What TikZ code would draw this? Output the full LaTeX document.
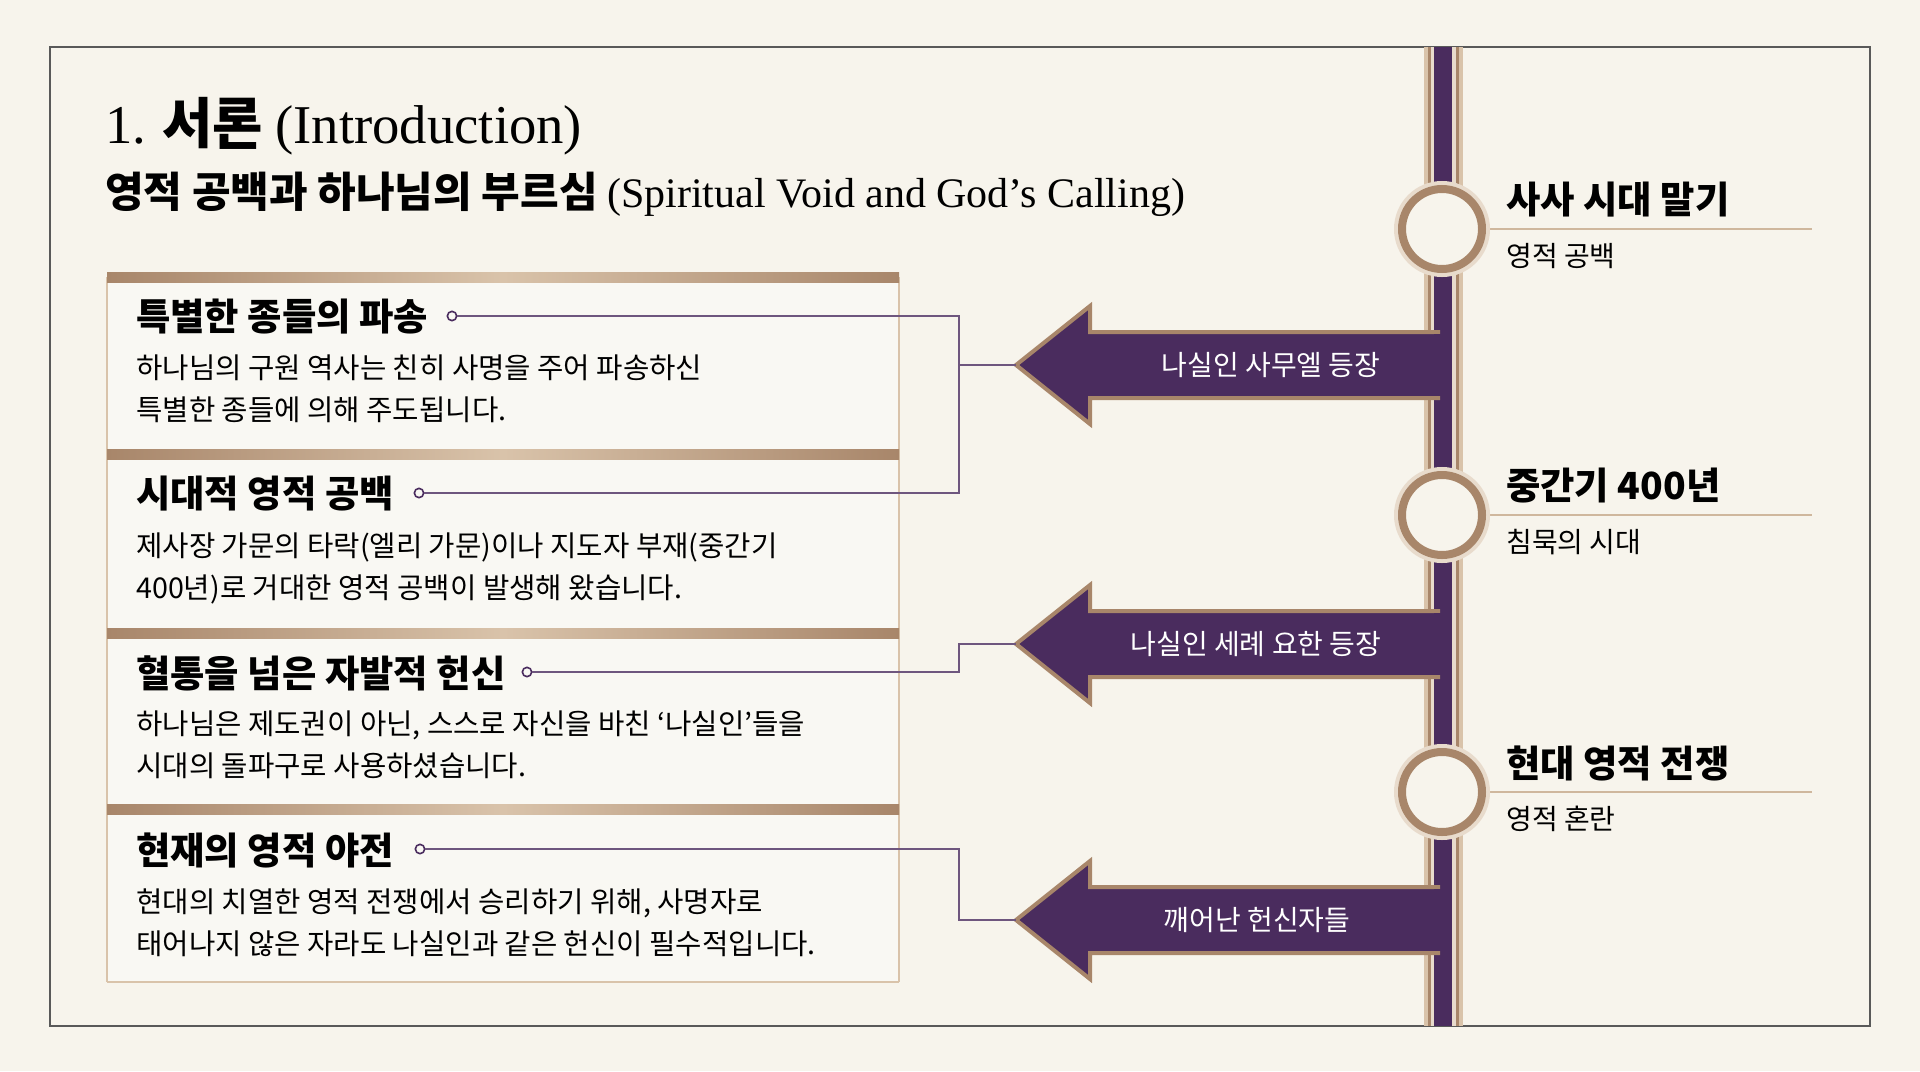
\documentclass[tikz,border=0pt]{standalone}
\usepackage{fontspec}
\setmainfont{Noto Sans CJK KR}
\newfontfamily\kr{Noto Sans CJK KR}
\newfontfamily\lat{Liberation Serif}
\definecolor{bg}{HTML}{F7F4EC}
\definecolor{pur}{HTML}{4A2C5E}
\definecolor{gold}{HTML}{A8866A}
\definecolor{lgold}{HTML}{D9C3AA}
\definecolor{card}{HTML}{F9F8F3}
\tikzset{
 cardbox/.style={fill=card,draw=lgold,line width=1pt},
 head/.style={anchor=west,font=\fontsize{28}{30}\selectfont\bfseries,inner sep=0},
 body/.style={anchor=north west,align=left,font=\fontsize{21.5}{31}\selectfont,inner sep=0},
 dot/.style={circle,draw=pur,fill=card,line width=1.2pt,inner sep=0,minimum size=7pt},
 conn/.style={draw=pur!80,line width=1.3pt},
 arr/.style={fill=pur,draw=gold,line width=3pt,line join=miter},
 alab/.style={text=white,font=\fontsize{21}{24}\selectfont},
 rhead/.style={anchor=west,font=\fontsize{28}{30}\selectfont\bfseries,inner sep=0},
 rsub/.style={anchor=west,font=\fontsize{21}{24}\selectfont,inner sep=0},
 ring/.style={circle,fill=bg,draw=gold,line width=6pt,minimum size=60pt,inner sep=0},
}
\begin{document}
\begin{tikzpicture}[x=0.75pt,y=-0.75pt]
\useasboundingbox (0,0) rectangle (1920,1071);
\fill[bg] (0,0) rectangle (1920,1071);
\draw[gray!70!black,line width=1pt] (50,47) rectangle (1870,1026);
\node[anchor=west,inner sep=0] (title) at (105,126) {\fontsize{41}{44}\selectfont{\lat 1.} {\kr\bfseries 서론} {\lat (Introduction)}};
\node[anchor=west,inner sep=0] (sub) at (105,194) {\fontsize{31.5}{34}\selectfont{\kr\bfseries 영적 공백과 하나님의 부르심} {\lat (Spiritual Void and God’s Calling)}};
% cards
\foreach \t/\b in {277/454,454/633,633/809,809/982}{
 \fill[card] (107,\t) rectangle (899,\b);
 \draw[lgold,line width=0.8pt] (107,\t) -- (107,\b) (899,\t) -- (899,\b);
}
\draw[lgold,line width=0.8pt] (107,982) -- (899,982);
\foreach \t in {277,454,633,809}{
 \shade[left color=gold,right color=gold,middle color=lgold] (107,\t-5) rectangle (899,\t+5);
}
\node[head] (h1) at (136,317) {특별한 종들의 파송};
\node[body] (b1) at (136,355) {하나님의 구원 역사는 친히 사명을 주어 파송하신\\특별한 종들에 의해 주도됩니다.};
\node[head] (h2) at (136,494) {시대적 영적 공백};
\node[body] (b2) at (136,533) {제사장 가문의 타락(엘리 가문)이나 지도자 부재(중간기\\400년)로 거대한 영적 공백이 발생해 왔습니다.};
\node[head] (h3) at (136,673) {혈통을 넘은 자발적 헌신};
\node[body] (b3) at (136,711) {하나님은 제도권이 아닌, 스스로 자신을 바친 ‘나실인’들을\\시대의 돌파구로 사용하셨습니다.};
\node[head] (h4) at (136,850) {현재의 영적 야전};
\node[body] (b4) at (136,889) {현대의 치열한 영적 전쟁에서 승리하기 위해, 사명자로\\태어나지 않은 자라도 나실인과 같은 헌신이 필수적입니다.};
\node[dot] (d1) at (452,316) {};
\node[dot] (d2) at (419,493) {};
\node[dot] (d3) at (527,672) {};
\node[dot] (d4) at (420,849) {};
% timeline
\fill[lgold] (1424,47) rectangle (1463,1026);
\fill[gold] (1428,47) rectangle (1459,1026);
\fill[lgold!60!white] (1431,47) rectangle (1456,1026);
\fill[pur] (1434,47) rectangle (1452,1026);
% arrows
\foreach \y/\n in {365/a1,644/a2,920/a3}{
 \draw[arr] (1440,\y-33) -- (1090,\y-33) -- (1090,\y-59) -- (1016,\y) -- (1090,\y+59) -- (1090,\y+33) -- (1440,\y+33);
 \fill[pur] (1434,\y-31) rectangle (1452,\y+31);
 \coordinate (\n) at (1016,\y);
}
\node[alab] at (1271,365) {나실인 사무엘 등장};
\node[alab] at (1256,644) {나실인 세례 요한 등장};
\node[alab] at (1257,920) {깨어난 헌신자들};
\coordinate (j1) at (959,365);
\coordinate (j3) at (959,644);
\coordinate (j4) at (959,920);
\draw[conn] (d1) -- (959,316) -- (959,493) -- (d2);
\draw[conn] (j1) -- (a1);
\draw[conn] (d3) -- (959,672) -- (j3) -- (a2);
\draw[conn] (d4) -- (959,849) -- (j4) -- (a3);
% right labels
\foreach \y/\h/\s/\n in {229/사사 시대 말기/영적 공백/c1,515/중간기 400년/침묵의 시대/c2,792/현대 영적 전쟁/영적 혼란/c3}{
 \draw[lgold!80!gold,line width=1.5pt] (1480,\y) -- (1812,\y);
 \node[ring,draw=lgold!60!white,line width=12pt] at (1442,\y) {};
 \node[ring] (\n) at (1442,\y) {};
 \node[rhead] at (1506,\y-29) {\h};
 \node[rsub] at (1506,\y+27) {\s};
}
\end{tikzpicture}
\end{document}
